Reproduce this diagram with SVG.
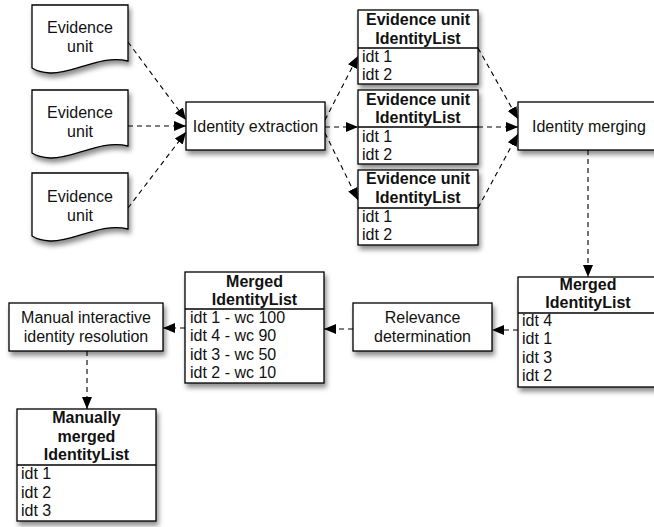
<svg xmlns="http://www.w3.org/2000/svg" width="654" height="527" viewBox="0 0 654 527">
<defs>
<style>
.shape{fill:#fff;stroke:#000;stroke-width:1.3;filter:url(#sh)}
.div{stroke:#000;stroke-width:1.3}
text{font-family:"Liberation Sans",Arial,Helvetica,sans-serif;font-size:16px;fill:#111}
.c{text-anchor:middle}
.b{font-weight:bold;font-size:16px}
.con{fill:none;stroke:#000;stroke-width:1.1;stroke-dasharray:5,4;marker-end:url(#ah)}
</style>
<filter id="sh" x="-20%" y="-20%" width="150%" height="160%">
<feDropShadow dx="2" dy="4" stdDeviation="2.5" flood-color="#000" flood-opacity="0.45"/>
</filter>
<marker id="ah" markerUnits="userSpaceOnUse" markerWidth="14" markerHeight="12" refX="12" refY="6" orient="auto">
<path d="M0,1 L12,6 L0,11 Z" fill="#000"/>
</marker>
</defs>

<g id="connectors">
<path class="con" d="M128,42 L186,120"/>
<path class="con" d="M128,126 L186,126"/>
<path class="con" d="M128,208 L186,132"/>
<path class="con" d="M325,120 L358,56"/>
<path class="con" d="M325,127 L358,127"/>
<path class="con" d="M325,133 L358,200"/>
<path class="con" d="M478,48 L518,119"/>
<path class="con" d="M478,127 L518,127"/>
<path class="con" d="M478,208 L518,134"/>
<path class="con" d="M588,150 L588,277"/>
<path class="con" d="M518,330 L492,330"/>
<path class="con" d="M353,329 L324,329"/>
<path class="con" d="M185,328 L163,328"/>
<path class="con" d="M87,351 L87,409"/>
</g>

<g id="evidence1">
<path class="shape" d="M32,5 H128 V61 C100,54 74,74 50,73 C42,72.5 36,70.5 32,68 Z"/>
<text class="c" x="80" y="33">Evidence</text>
<text class="c" x="80" y="51.5">unit</text>
</g>
<g id="evidence2">
<path class="shape" d="M32,90 H128 V146 C100,139 74,159 50,158 C42,157.5 36,155.5 32,153 Z"/>
<text class="c" x="80" y="118">Evidence</text>
<text class="c" x="80" y="136.5">unit</text>
</g>
<g id="evidence3">
<path class="shape" d="M32,173 H128 V229 C100,222 74,242 50,241 C42,240.5 36,238.5 32,236 Z"/>
<text class="c" x="80" y="202">Evidence</text>
<text class="c" x="80" y="220.5">unit</text>
</g>

<g id="extraction">
<rect class="shape" x="186" y="102" width="139" height="48"/>
<text class="c" x="255.5" y="132">Identity extraction</text>
</g>

<g id="list1">
<rect class="shape" x="358" y="10" width="120" height="74"/>
<line class="div" x1="358" y1="48" x2="478" y2="48"/>
<text class="c b" x="418" y="25">Evidence unit</text>
<text class="c b" x="418" y="43.5">IdentityList</text>
<text x="362" y="62">idt 1</text>
<text x="362" y="80">idt 2</text>
</g>
<g id="list2">
<rect class="shape" x="358" y="90" width="120" height="74"/>
<line class="div" x1="358" y1="127" x2="478" y2="127"/>
<text class="c b" x="418" y="104.5">Evidence unit</text>
<text class="c b" x="418" y="123">IdentityList</text>
<text x="362" y="142">idt 1</text>
<text x="362" y="160">idt 2</text>
</g>
<g id="list3">
<rect class="shape" x="358" y="170" width="120" height="75"/>
<line class="div" x1="358" y1="208" x2="478" y2="208"/>
<text class="c b" x="418" y="184">Evidence unit</text>
<text class="c b" x="418" y="202.5">IdentityList</text>
<text x="362" y="222">idt 1</text>
<text x="362" y="240">idt 2</text>
</g>

<g id="merging">
<rect class="shape" x="518" y="102" width="140" height="48"/>
<text x="532" y="132">Identity merging</text>
</g>

<g id="mergedRight">
<rect class="shape" x="518" y="277" width="140" height="110"/>
<line class="div" x1="518" y1="313" x2="658" y2="313"/>
<text class="c b" x="588" y="290">Merged</text>
<text class="c b" x="588" y="308">IdentityList</text>
<text x="522" y="325.5">idt 4</text>
<text x="522" y="344">idt 1</text>
<text x="522" y="362.5">idt 3</text>
<text x="522" y="381">idt 2</text>
</g>

<g id="relevance">
<rect class="shape" x="353" y="303" width="139" height="48"/>
<text class="c" x="422.5" y="323">Relevance</text>
<text class="c" x="422.5" y="342">determination</text>
</g>

<g id="mergedMiddle">
<rect class="shape" x="185" y="272" width="139" height="111"/>
<line class="div" x1="185" y1="309" x2="324" y2="309"/>
<text class="c b" x="254.5" y="286.5">Merged</text>
<text class="c b" x="254.5" y="304.5">IdentityList</text>
<text x="190" y="322.5">idt 1 - wc 100</text>
<text x="190" y="341">idt 4 - wc 90</text>
<text x="190" y="359.5">idt 3 - wc 50</text>
<text x="190" y="378">idt 2 - wc 10</text>
</g>

<g id="manual">
<rect class="shape" x="9" y="303" width="154" height="48"/>
<text class="c" x="86" y="323">Manual interactive</text>
<text class="c" x="86" y="342">identity resolution</text>
</g>

<g id="manualMerged">
<rect class="shape" x="17" y="409" width="139" height="112"/>
<line class="div" x1="17" y1="465" x2="156" y2="465"/>
<text class="c b" x="86.5" y="423">Manually</text>
<text class="c b" x="86.5" y="441.5">merged</text>
<text class="c b" x="86.5" y="460">IdentityList</text>
<text x="21" y="479">idt 1</text>
<text x="21" y="497.5">idt 2</text>
<text x="21" y="516">idt 3</text>
</g>
</svg>
